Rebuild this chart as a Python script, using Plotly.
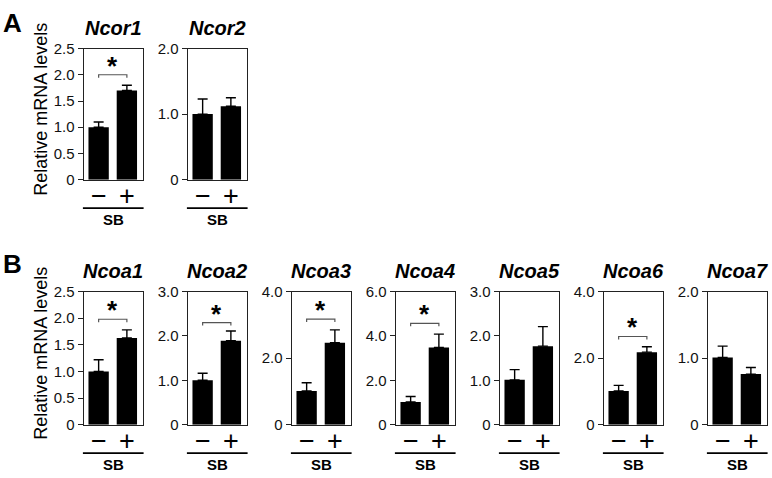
import plotly.graph_objects as go

genes = ["Ncor1", "Ncor2", "Ncoa1", "Ncoa2", "Ncoa3", "Ncoa4", "Ncoa5", "Ncoa6", "Ncoa7"]
panel_row = [0, 0, 1, 1, 1, 1, 1, 1, 1]
panel_col = [0, 1, 0, 1, 2, 3, 4, 5, 6]
groups = ["−", "+"]
ctrl_mean = [1.00, 1.00, 1.00, 1.00, 1.01, 1.02, 1.01, 1.01, 1.01]
ctrl_top = [1.10, 1.23, 1.22, 1.16, 1.26, 1.27, 1.24, 1.18, 1.18]
sb_mean = [1.70, 1.12, 1.63, 1.89, 2.46, 3.48, 1.77, 2.18, 0.76]
sb_top = [1.80, 1.25, 1.78, 2.11, 2.85, 4.08, 2.21, 2.34, 0.86]
y_max = [2.5, 2.0, 2.5, 3.0, 4.0, 6.0, 3.0, 4.0, 2.0]
tick_vals = [
    [0, 0.5, 1.0, 1.5, 2.0, 2.5],
    [0, 1.0, 2.0],
    [0, 0.5, 1.0, 1.5, 2.0, 2.5],
    [0, 1.0, 2.0, 3.0],
    [0, 2.0, 4.0],
    [0, 2.0, 4.0, 6.0],
    [0, 1.0, 2.0, 3.0],
    [0, 2.0, 4.0],
    [0, 1.0, 2.0],
]
tick_text = [
    ["0", "0.5", "1.0", "1.5", "2.0", "2.5"],
    ["0", "1.0", "2.0"],
    ["0", "0.5", "1.0", "1.5", "2.0", "2.5"],
    ["0", "1.0", "2.0", "3.0"],
    ["0", "2.0", "4.0"],
    ["0", "2.0", "4.0", "6.0"],
    ["0", "1.0", "2.0", "3.0"],
    ["0", "2.0", "4.0"],
    ["0", "1.0", "2.0"],
]
sig_level = [2.0, None, 1.98, 2.3, 3.17, 4.57, None, 2.65, None]
panel_labels = ["A", "B"]
y_title = "Relative mRNA levels"
group_label = "SB"

W, H = 772, 478
row_top = [41, 293]
row_bot = [177, 431]
label_gap = [26, 29]
left0, step, boxw = 83.5, 104, 59.5

FONT = "Liberation Sans, Arial, sans-serif"

fig = go.Figure()
layout = dict(
    width=W, height=H, margin=dict(l=0, r=0, t=0, b=0),
    paper_bgcolor="white", plot_bgcolor="white", showlegend=False,
    font=dict(family=FONT, color="black"),
)
annotations = []
shapes = []

for i, g in enumerate(genes):
    r, c = panel_row[i], panel_col[i]
    n = "" if i == 0 else str(i + 1)
    dom = ("x%s domain" % n) if n else "x domain"
    x0 = left0 + step * c
    x1 = x0 + boxw
    y0, y1 = row_top[r], row_bot[r]
    dx = [x0 / W, x1 / W]
    dy = [1 - y1 / H, 1 - y0 / H]
    fig.add_trace(go.Bar(
        x=[0, 1], y=[ctrl_mean[i], sb_mean[i]],
        width=0.72, marker=dict(color="black", line=dict(width=0)),
        error_y=dict(type="data", symmetric=False,
                     array=[ctrl_top[i] - ctrl_mean[i], sb_top[i] - sb_mean[i]],
                     arrayminus=[0, 0], color="black", thickness=1.4, width=5),
        xaxis="x" + n, yaxis="y" + n,
    ))
    layout["xaxis" + n] = dict(
        domain=dx, range=[-0.536, 1.571], anchor="y" + n,
        showticklabels=False, ticks="", showgrid=False, zeroline=False,
        showline=True, linecolor="#222", linewidth=1, mirror=True, fixedrange=True,
    )
    layout["yaxis" + n] = dict(
        domain=dy, range=[0, y_max[i]], anchor="x" + n,
        tickvals=tick_vals[i], ticktext=tick_text[i], ticks="outside", ticklen=5,
        tickwidth=1, tickcolor="#222", showgrid=False, zeroline=False,
        showline=True, linecolor="#222", linewidth=1, mirror=True,
        tickfont=dict(size=15, family=FONT, color="#111"), fixedrange=True,
    )
    annotations.append(dict(
        text="<b><i>%s</i></b>" % g, x=0.5, xref=dom,
        y=1 - (y0 - 21) / H, yref="paper", yanchor="middle", xanchor="center",
        showarrow=False, font=dict(size=20, family=FONT, color="black"),
    ))
    for k, sym in enumerate(groups):
        annotations.append(dict(
            text=sym, x=k, xref="x" + n, y=1 - (y1 + 17) / H, yref="paper",
            yanchor="middle", xanchor="center", showarrow=False,
            font=dict(size=27, family=FONT, color="black"),
        ))
    shapes.append(dict(
        type="line", xref=dom, yref="paper",
        x0=-0.01, x1=1.01, y0=1 - (y1 + 29.5) / H, y1=1 - (y1 + 29.5) / H,
        line=dict(color="black", width=1.6),
    ))
    annotations.append(dict(
        text="<b>%s</b>" % group_label, x=0.5, xref=dom,
        y=1 - (y1 + 41) / H, yref="paper", yanchor="middle", xanchor="center",
        showarrow=False, font=dict(size=15, family=FONT, color="black"),
    ))
    if sig_level[i] is not None:
        L = sig_level[i]
        t = y_max[i] * 3.0 / (y1 - y0)
        shapes.append(dict(
            type="path", xref="x" + n, yref="y" + n,
            path="M 0,%f L 0,%f L 1,%f L 1,%f" % (L - t, L, L, L - t),
            line=dict(color="#555", width=1.2),
        ))
        annotations.append(dict(
            text="<b>*</b>", x=0.5, xref="x" + n, y=L, yref="y" + n,
            yanchor="bottom", xanchor="center", showarrow=False, yshift=-8,
            font=dict(size=26, family=FONT, color="black"),
        ))

for r in range(2):
    annotations.append(dict(
        text=y_title, x=41.5 / W, xref="paper",
        y=1 - ((row_top[r] + row_bot[r]) / 2 - 5) / H, yref="paper",
        textangle=-90, xanchor="center", yanchor="middle", showarrow=False,
        font=dict(size=18, family=FONT, color="black"),
    ))
    annotations.append(dict(
        text="<b>%s</b>" % panel_labels[r], x=12.5 / W, xref="paper",
        y=1 - (row_top[r] - label_gap[r]) / H, yref="paper",
        xanchor="center", yanchor="middle", showarrow=False,
        font=dict(size=26, family=FONT, color="black"),
    ))

layout["annotations"] = annotations
layout["shapes"] = shapes
fig.update_layout(**layout)
fig.write_html(
    "out.html", config={"displayModeBar": False},
    post_script="document.body.style.margin='0';document.body.style.padding='0';"
                "document.body.style.overflow='hidden';",
)
